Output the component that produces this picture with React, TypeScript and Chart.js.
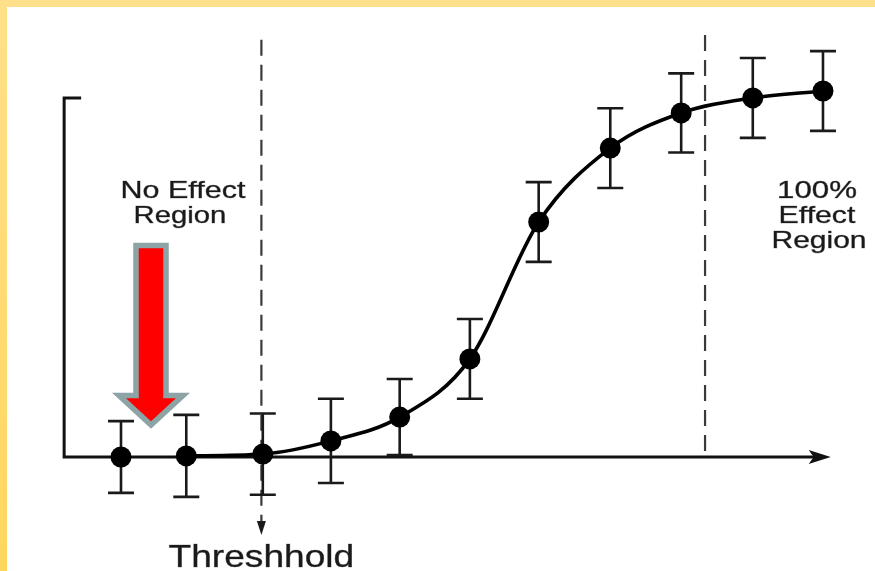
import React, { useEffect, useRef } from "react";
import { Chart, registerables } from "chart.js";

Chart.register(...registerables);

// ---- data ----
const doses = [1, 1.93, 3.02, 3.99, 4.97, 5.97, 6.95, 7.97, 8.98, 10.0, 11.0];
const effects = [0, 0.3, 0.8, 4.4, 10.9, 26.8, 64.2, 84.4, 94.0, 98.1, 100];
const errors = [9.8, 11.2, 11.1, 11.5, 10.4, 10.9, 10.9, 10.9, 10.8, 10.9, 10.9];
const thresholdDose = 3.0;
const fullEffectDose = 9.32;
const noEffectLabel = ["No Effect", "Region"];
const fullEffectLabel = ["100%", "Effect", "Region"];
const thresholdLabel = "Threshhold";

// axis extents in data units
const X_MIN = -0.7236;
const X_MAX = 11.741;
const Y_MIN = -31.15;
const Y_MAX = 124.86;
const AXIS_X0 = 0.19;
const AXIS_X1 = 11.11;
const AXIS_Y1 = 98.1;

const FONT = '"Liberation Sans", Arial, Helvetica, sans-serif';

function stretchedText(ctx: CanvasRenderingContext2D, text: string, cx: number, base: number, size: number, sx: number) {
  ctx.save();
  ctx.translate(cx, base);
  ctx.scale(sx, 1);
  ctx.font = `${size}px ${FONT}`;
  ctx.textAlign = "center";
  ctx.textBaseline = "alphabetic";
  ctx.fillStyle = "#1a1a1a";
  ctx.strokeStyle = "rgba(26,26,26,0.55)";
  ctx.lineWidth = 0.6;
  ctx.fillText(text, 0, 0);
  ctx.strokeText(text, 0, 0);
  ctx.restore();
}

const decorPlugin = {
  id: "decor",
  beforeDraw(chart: any) {
    const ctx: CanvasRenderingContext2D = chart.ctx;
    const w = chart.width;
    const h = chart.height;
    ctx.save();
    ctx.fillStyle = "#ffffff";
    ctx.fillRect(0, 0, w, h);
    ctx.fillStyle = "#FFE08A";
    ctx.fillRect(0, 0, w, 7);
    const g = ctx.createLinearGradient(0, 0, 0, h);
    g.addColorStop(0, "#FFE08A");
    g.addColorStop(1, "#FFD65E");
    ctx.fillStyle = g;
    ctx.fillRect(0, 0, 7, h);
    ctx.restore();
  },
  beforeDatasetsDraw(chart: any) {
    const ctx: CanvasRenderingContext2D = chart.ctx;
    const xs = chart.scales.x;
    const ys = chart.scales.y;
    const px = (v: number) => xs.getPixelForValue(v);
    const py = (v: number) => ys.getPixelForValue(v);
    ctx.save();
    // dashed lines
    ctx.strokeStyle = "#3a3a3a";
    ctx.lineWidth = 2.2;
    ctx.setLineDash([16, 9]);
    const tx = px(thresholdDose);
    ctx.beginPath();
    ctx.moveTo(tx, py(114));
    ctx.lineTo(tx, py(-18.5));
    ctx.stroke();
    const fx = px(fullEffectDose);
    ctx.beginPath();
    ctx.moveTo(fx, py(115.3));
    ctx.lineTo(fx, py(1.2));
    ctx.stroke();
    ctx.setLineDash([]);
    // small arrow head under threshold line
    ctx.fillStyle = "#1a1a1a";
    ctx.beginPath();
    ctx.moveTo(tx - 4.5, py(-17.5));
    ctx.lineTo(tx + 4.5, py(-17.5));
    ctx.lineTo(tx, py(-21.3));
    ctx.closePath();
    ctx.fill();

    // axes
    ctx.strokeStyle = "#111";
    ctx.lineWidth = 3;
    ctx.lineCap = "butt";
    ctx.beginPath();
    ctx.moveTo(px(AXIS_X0) + 17, py(AXIS_Y1));
    ctx.lineTo(px(AXIS_X0), py(AXIS_Y1));
    ctx.lineTo(px(AXIS_X0), py(0));
    ctx.lineTo(px(AXIS_X1) - 12, py(0));
    ctx.stroke();
    ctx.fillStyle = "#111";
    ctx.beginPath();
    const ax = px(AXIS_X1);
    const ay = py(0);
    ctx.moveTo(ax, ay);
    ctx.lineTo(ax - 22, ay - 7);
    ctx.lineTo(ax - 17, ay);
    ctx.lineTo(ax - 22, ay + 7);
    ctx.closePath();
    ctx.fill();

    // error bars
    ctx.strokeStyle = "#1a1a1a";
    ctx.lineWidth = 2.6;
    doses.forEach((d, i) => {
      const x = px(d);
      const yt = py(effects[i] + errors[i]);
      const yb = py(effects[i] - errors[i]);
      ctx.beginPath();
      ctx.moveTo(x, yt);
      ctx.lineTo(x, yb);
      ctx.moveTo(x - 13, yt);
      ctx.lineTo(x + 13, yt);
      ctx.moveTo(x - 13, yb);
      ctx.lineTo(x + 13, yb);
      ctx.stroke();
    });
    ctx.restore();
  },
  afterDatasetsDraw(chart: any) {
    const ctx: CanvasRenderingContext2D = chart.ctx;
    const xs = chart.scales.x;
    const px = (v: number) => xs.getPixelForValue(v);
    // labels
    stretchedText(ctx, noEffectLabel[0], 183, 198, 24, 1.27);
    stretchedText(ctx, noEffectLabel[1], 180, 223, 24, 1.22);
    stretchedText(ctx, fullEffectLabel[0], 817, 198, 24, 1.3);
    stretchedText(ctx, fullEffectLabel[1], 817, 223, 24, 1.26);
    stretchedText(ctx, fullEffectLabel[2], 819, 248, 24, 1.25);
    stretchedText(ctx, thresholdLabel, px(thresholdDose), 567, 32, 1.16);

    // red block arrow pointing at the no effect region
    const cx = 151;
    ctx.save();
    ctx.beginPath();
    ctx.moveTo(cx - 15, 245.5);
    ctx.lineTo(cx + 15, 245.5);
    ctx.lineTo(cx + 15, 395.5);
    ctx.lineTo(cx + 32, 395.5);
    ctx.lineTo(cx, 425);
    ctx.lineTo(cx - 32, 395.5);
    ctx.lineTo(cx - 15, 395.5);
    ctx.closePath();
    ctx.fillStyle = "#FF0000";
    ctx.fill();
    ctx.lineWidth = 5.5;
    ctx.lineJoin = "miter";
    ctx.strokeStyle = "#8DA4A6";
    ctx.stroke();
    ctx.restore();
  },
};

export default function App() {
  const ref = useRef<HTMLCanvasElement>(null);
  useEffect(() => {
    document.body.style.margin = "0";
    if (!ref.current) return;
    const chart = new Chart(ref.current, {
      type: "line",
      data: {
        datasets: [
          {
            data: doses.map((d, i) => ({ x: d, y: effects[i] })),
            borderColor: "#000",
            borderWidth: 3.6,
            cubicInterpolationMode: "monotone",
            pointRadius: 10.5,
            pointBackgroundColor: "#000",
            pointBorderColor: "#000",
            pointBorderWidth: 0,
            clip: false as any,
            segment: {
              borderColor: (c: any) => (c.p0DataIndex === 0 ? "rgba(0,0,0,0)" : "#000"),
            },
          } as any,
        ],
      },
      options: {
        animation: false,
        responsive: false,
        maintainAspectRatio: false,
        devicePixelRatio: 1,
        layout: { padding: 0, autoPadding: false } as any,
        plugins: { legend: { display: false }, tooltip: { enabled: false } },
        events: [],
        scales: {
          x: { type: "linear", min: X_MIN, max: X_MAX, display: false },
          y: { type: "linear", min: Y_MIN, max: Y_MAX, display: false },
        },
      },
      plugins: [decorPlugin],
    });
    return () => chart.destroy();
  }, []);
  return (
    <div style={{ position: "absolute", left: 0, top: 0, width: 875, height: 571 }}>
      <canvas ref={ref} width={875} height={571} />
    </div>
  );
}
